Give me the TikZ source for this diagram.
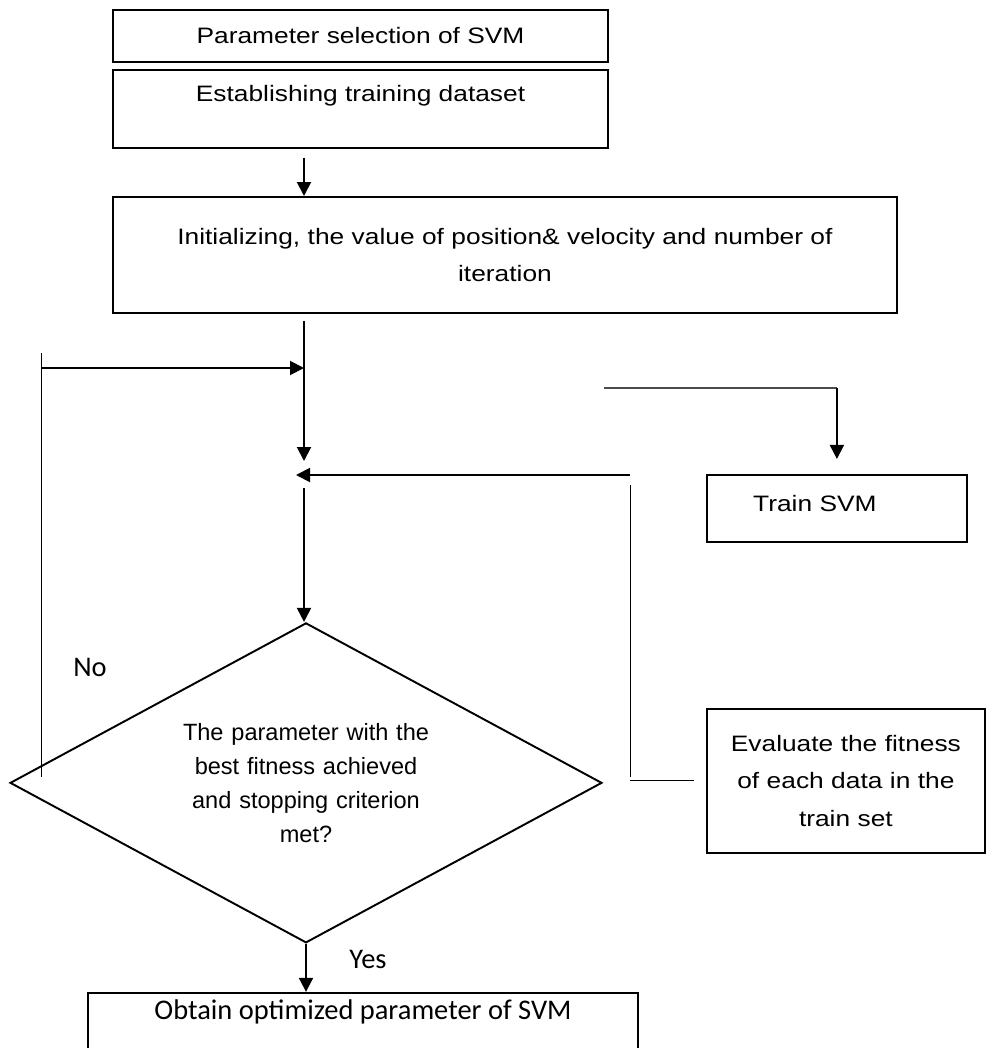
\documentclass[tikz,border=0pt]{standalone}
\usepackage{fontspec}
\setmainfont{Liberation Sans}
\newfontfamily\widesans{Liberation Sans}[FakeStretch=1.18]
\newfontfamily\carlito{Carlito}
\usetikzlibrary{arrows.meta,shapes.geometric}
\begin{document}
\begin{tikzpicture}[x=0.02cm, y=-0.02cm, >={Triangle[length=0.28cm,width=0.28cm]}]
    \tikzstyle{txt} = [font=\widesans\fontsize{12.7}{21.3}\selectfont]
    \tikzstyle{cal} = [font=\carlito\fontsize{16.2}{19}\selectfont]
    \tikzstyle{box} = [rectangle, draw, line width=1.1pt, txt, align=center, inner sep=0pt]
    \tikzstyle{decide} = [diamond, draw, line width=1.1pt, shape aspect=1.85, inner sep=0pt,
                                      minimum width=11.84cm, minimum height=6.4cm, text width=5.2cm,
                                      align=center, font=\fontsize{13.4}{19.35}\selectfont]
    \tikzstyle{link} = [->, line width=1.1pt]
    \tikzstyle{wire} = [line width=0.55pt]
  \useasboundingbox (0,0) rectangle (987,1048);
  \clip (0,0) rectangle (987,1048);
  \node[box, minimum width=9.9cm, minimum height=1.04cm](sel) at (360.5,36) {Parameter selection of SVM};
  \node[box, minimum width=9.9cm, minimum height=1.56cm, below of=sel, yshift=-0.46cm,
        label={[txt, anchor=center, yshift=-0.54cm]north:Establishing training dataset}](est){};
  \node[box, minimum width=15.68cm, minimum height=2.32cm, text width=15cm, below of=est,
        xshift=2.89cm, yshift=-1.92cm](init){Initializing, the value of position\& velocity and number of\\ iteration};
  \node[box, minimum width=5.2cm, minimum height=1.34cm, below of=init, xshift=6.64cm, yshift=-4.07cm,
        label={[txt, anchor=center, xshift=-0.44cm, yshift=0.78cm]south:Train SVM}](train){};
  \node[decide, below of=init, xshift=-3.98cm, yshift=-9.56cm](fit){The parameter with the\\ best fitness achieved\\ and stopping criterion\\ met?};
  \node[box, minimum width=5.56cm, minimum height=2.88cm, text width=5.2cm, right of=fit,
        xshift=9.80cm, yshift=0.04cm](eval){Evaluate the fitness\\ of each data in the\\ train set};
  \node[box, minimum width=11cm, minimum height=2cm, below of=fit, xshift=1.14cm, yshift=-4.20cm,
        label={[cal, anchor=center, yshift=-0.4cm]north:Obtain optimized parameter of SVM}](obt){};
  \node[cal](no) at (90,667) {No};
  \node[cal](yes) at (368,959) {Yes};
  \coordinate (join) at (304,475);
  \coordinate (loopin) at (304,368);
  \coordinate (looptop) at (41,353);
  \coordinate (loopbot) at (41,777);
  \coordinate (back) at (630,475);
  \coordinate (backbot) at (630,777);
  \coordinate (feed) at (604,388);
  \draw[link, shorten <=0.18cm] (est.south -| join) -- (init.north -| join);
  \draw[link, shorten <=0.14cm, shorten >=0.28cm] (init.south -| join) -- (join);
  \draw[link] (back) -- ([xshift=-0.16cm]join);
  \draw[link, shorten <=0.26cm] (join) -- (join |- fit.north);
  \draw[wire] (looptop) -- (loopbot);
  \draw[link] (looptop |- loopin) -- (loopin);
  \draw[wire, shorten <=0.2cm] (back) -- (backbot);
  \draw[wire, shorten <=0.24cm] (eval.west) -- (eval.west -| backbot);
  \draw[black!70, line width=0.8pt] (feed) -- (feed -| train.north);
  \draw[link, shorten >=0.3cm] (feed -| train.north) -- (train.north);
  \draw[link] (fit.south) -- (fit.south |- obt.north);
  \end{tikzpicture}
\end{document}
